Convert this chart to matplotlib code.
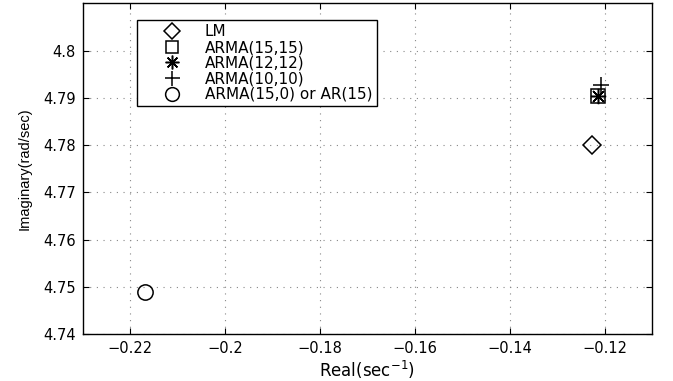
import numpy as np
import matplotlib
matplotlib.use("Agg")
import matplotlib.pyplot as plt
from matplotlib.ticker import FuncFormatter

plt.rcParams['font.family'] = ['DejaVu Sans']

# poles (real, imaginary)
labels = ['LM', 'ARMA(15,15)', 'ARMA(12,12)', 'ARMA(10,10)', 'ARMA(15,0) or AR(15)']
real = [-0.1227, -0.1214, -0.1214, -0.1208, -0.2168]
imag = [4.7800, 4.7904, 4.7904, 4.7927, 4.7490]
markers = ['D', 's', (8, 2, 0), '+', 'o']
sizes = [9, 10, 11, 12, 11]

xticks = [-0.22, -0.2, -0.18, -0.16, -0.14, -0.12]
yticks = [4.74, 4.75, 4.76, 4.77, 4.78, 4.79, 4.8]

fig = plt.figure(figsize=(6.73, 3.81), dpi=100)
ax = fig.add_axes([0.123, 0.123, 0.846, 0.868])

for xr, yi, lab, m, s in zip(real, imag, labels, markers, sizes):
    ax.plot(xr, yi, linestyle='none', marker=m, markersize=s, markerfacecolor='none',
            markeredgecolor='black', color='black', markeredgewidth=1.1, label=lab)

ax.set_xlim(-0.23, -0.11)
ax.set_ylim(4.74, 4.81)
ax.set_xticks(xticks)
ax.set_yticks(yticks)
fmt = FuncFormatter(lambda v, p: ('%g' % round(v, 4)).replace('-', '\u2212'))
ax.xaxis.set_major_formatter(fmt)
ax.yaxis.set_major_formatter(fmt)
ax.tick_params(direction='in', length=4, labelsize=10.5, colors='black', top=True, right=True, pad=5)
ax.grid(True, linestyle=(0, (1, 5)), color='#888888', linewidth=0.8)
for sp in ax.spines.values():
    sp.set_linewidth(1.0)

ax.set_xlabel('Real(sec$^{-1}$)', fontsize=12, labelpad=2)
ax.set_ylabel('Imaginary(rad/sec)', fontsize=10.5, family=['Liberation Sans'], labelpad=8)

leg = ax.legend(loc='upper left', bbox_to_anchor=(0.0954, 0.9495), borderaxespad=0,
                fontsize=11, fancybox=False, framealpha=1, edgecolor='black',
                handlelength=4.0, labelspacing=0.04, borderpad=0.28, handletextpad=0.15,
                markerscale=0.9)
leg.get_frame().set_linewidth(1.0)

fig.savefig('out.png', dpi=100)
